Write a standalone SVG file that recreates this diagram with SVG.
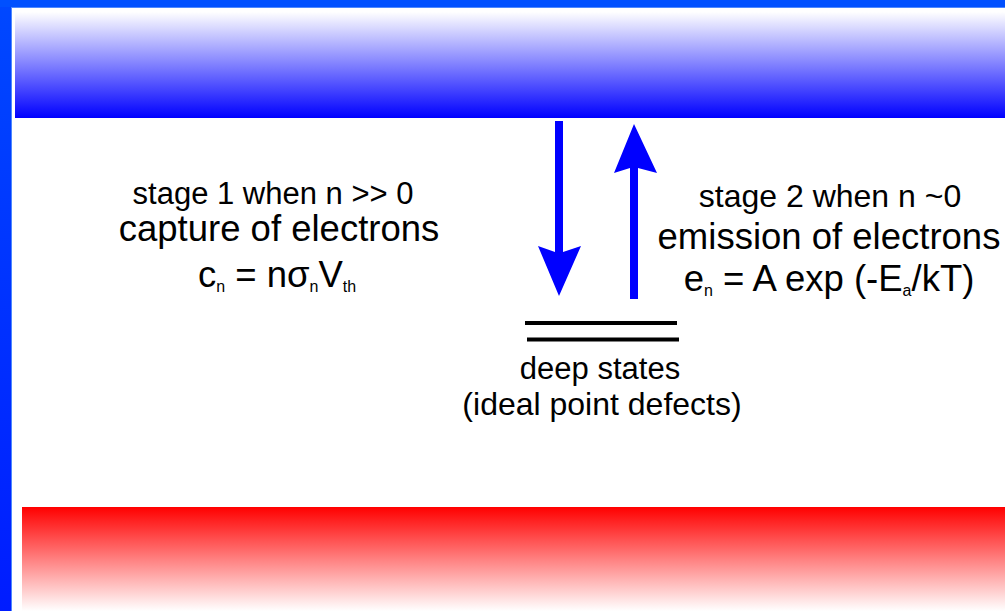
<svg xmlns="http://www.w3.org/2000/svg" width="1005" height="611" viewBox="0 0 1005 611">
<defs>
<linearGradient id="gBlue" x1="0" y1="0" x2="0" y2="1">
<stop offset="0" stop-color="#ffffff"/>
<stop offset="1" stop-color="#0000ff"/>
</linearGradient>
<linearGradient id="gRed" x1="0" y1="0" x2="0" y2="1">
<stop offset="0" stop-color="#ff0000"/>
<stop offset="1" stop-color="#ffffff"/>
</linearGradient>
<linearGradient id="gFrame" x1="0" y1="0" x2="0" y2="1">
<stop offset="0" stop-color="#0048ff"/>
<stop offset="1" stop-color="#001cff"/>
</linearGradient>
</defs>
<style>
text{font-family:"Liberation Sans",Arial,sans-serif;fill:#000;text-anchor:middle}
.s{font-size:31px}
.s2{font-size:32px}
.l{font-size:36.5px}
.sub{font-size:16px}
.arrow{fill:#0000ff}
.lvl{stroke:#000;stroke-width:4}
</style>
<rect width="1005" height="611" fill="#ffffff"/>
<g id="frame">
<rect x="0" y="0" width="11" height="611" fill="url(#gFrame)"/>
<rect x="0" y="0" width="1005" height="7" fill="#0050ff"/>
<rect x="11" y="7" width="1" height="604" fill="#4d88ff"/>
<rect x="11" y="7" width="994" height="1" fill="#4d88ff"/>
</g>
<g id="conduction-band">
<rect x="15" y="12" width="990" height="106" fill="url(#gBlue)"/>
</g>
<g id="valence-band">
<rect x="22" y="507" width="983" height="104" fill="url(#gRed)"/>
</g>
<g id="connectors">
<path class="arrow" d="M555,121 H563 V252 L581,246 L559,296 L538,246 L555,252 Z"/>
<path class="arrow" d="M630,299 H638 V168 L657,173 L634,124 L614,173 L630,168 Z"/>
</g>
<g id="deep-states">
<line class="lvl" x1="525" y1="323" x2="677" y2="323"/>
<line class="lvl" x1="527" y1="339.5" x2="679" y2="339.5"/>
<text class="s" x="600" y="379">deep states</text>
<text class="s2" x="602" y="415">(ideal point defects)</text>
</g>
<g id="capture-label">
<text class="s" x="273" y="204">stage 1 when n &gt;&gt; 0</text>
<text class="l" x="279" y="241">capture of electrons</text>
<text class="l" x="277" y="287">c<tspan class="sub" dy="5">n</tspan><tspan dy="-5"> = n</tspan>σ<tspan class="sub" dy="5">n</tspan><tspan dy="-5">V</tspan><tspan class="sub" dy="5">th</tspan></text>
</g>
<g id="emission-label">
<text class="s2" x="830" y="207">stage 2 when n ~0</text>
<text class="l" x="829" y="249">emission of electrons</text>
<text class="l" x="829" y="291">e<tspan class="sub" dy="5">n</tspan><tspan dy="-5"> = A exp (-E</tspan><tspan class="sub" dy="5">a</tspan><tspan dy="-5">/kT)</tspan></text>
</g>
</svg>
